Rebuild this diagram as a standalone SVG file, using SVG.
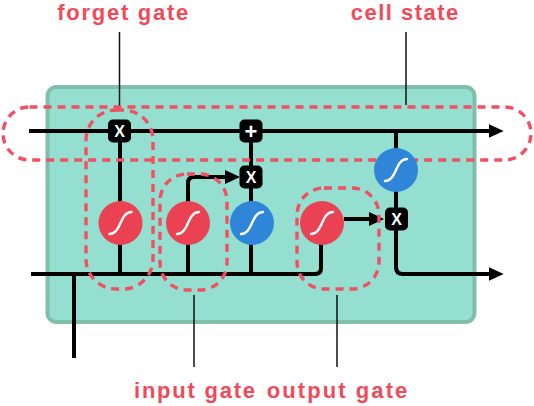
<svg xmlns="http://www.w3.org/2000/svg" width="534" height="406" viewBox="0 0 534 406">
<defs>
<style>
.lbl{font-family:"Liberation Sans",Arial,sans-serif;font-weight:bold;font-size:22px;fill:#f04a5a;text-anchor:middle}
.lead{stroke:#111;stroke-width:1.5;fill:none}
.wire{stroke:#000;stroke-width:4;fill:none;stroke-linejoin:round}
.dash{stroke:#f24f60;stroke-width:3.4;fill:none;stroke-dasharray:8 6}
.sig{fill:#ea4252}
.tanh{fill:#2f86d8}
.curve{stroke:#fff;stroke-width:2.4;fill:none;stroke-linecap:round}
.op{fill:#000}
.opt{font-family:"Liberation Sans",Arial,sans-serif;font-weight:bold;fill:#fff;text-anchor:middle}
</style>
<marker id="ah" markerUnits="userSpaceOnUse" viewBox="0 0 15 14" markerWidth="15" markerHeight="14" refX="5" refY="7" orient="auto">
<path d="M0,0 L15,7 L0,14 Z" fill="#000"/>
</marker>
<path id="scurve" d="M-11,11 C1,11 -1,-11 11,-11"/>
</defs>

<g id="cell-box">
<rect x="47.5" y="87" width="427" height="235" rx="9" fill="#94dfcf" stroke="#7fbfab" stroke-width="4"/>
</g>

<g id="connectors">
<path class="wire" d="M29,131 H493.7" marker-end="url(#ah)"/>
<path class="wire" d="M31,274 H315 Q321,274 321,268 V223"/>
<path class="wire" d="M74,274 V358"/>
<path class="wire" d="M120,131 V274"/>
<path class="wire" d="M188,274 V183 Q188,177 194,177 H230" marker-end="url(#ah)"/>
<path class="wire" d="M251,131 V274"/>
<path class="wire" d="M344,219 H374" marker-end="url(#ah)"/>
<path class="wire" d="M396,131 V267 Q396,274 403,274 H493.7" marker-end="url(#ah)"/>
<path class="lead" d="M119.5,32 V106"/>
<path class="lead" d="M406,32 V105"/>
<path class="lead" d="M194,295 V367"/>
<path class="lead" d="M337,295 V367"/>
</g>

<g id="cell-state-region"><rect class="dash" x="3" y="107" width="528" height="53" rx="26.5"/></g>
<g id="forget-gate-region"><rect class="dash" x="86" y="110" width="67" height="179" rx="30"/></g>
<g id="input-gate-region"><rect class="dash" x="160" y="174" width="67" height="116" rx="27"/></g>
<g id="output-gate-region"><rect class="dash" x="297" y="188" width="82" height="101" rx="27"/></g>

<g id="forget-sigmoid"><circle class="sig" cx="120.5" cy="223" r="22"/><use href="#scurve" class="curve" transform="translate(120.5,223)"/></g>
<g id="input-sigmoid"><circle class="sig" cx="188" cy="223" r="22"/><use href="#scurve" class="curve" transform="translate(188,223)"/></g>
<g id="candidate-tanh"><circle class="tanh" cx="252" cy="223" r="22"/><use href="#scurve" class="curve" transform="translate(252,223)"/></g>
<g id="output-sigmoid"><circle class="sig" cx="322" cy="223" r="22"/><use href="#scurve" class="curve" transform="translate(322,223)"/></g>
<g id="cell-tanh"><circle class="tanh" cx="396" cy="170" r="22"/><use href="#scurve" class="curve" transform="translate(396,170)"/></g>

<g id="forget-mult"><rect class="op" x="108" y="119.5" width="23" height="23" rx="5"/><text class="opt" x="119.5" y="136.8" font-size="16">X</text></g>
<g id="add"><rect class="op" x="239.5" y="119.5" width="23" height="23" rx="5"/><text class="opt" x="251" y="138.5" font-size="22">+</text></g>
<g id="input-mult"><rect class="op" x="239.5" y="165.5" width="23" height="23" rx="5"/><text class="opt" x="251" y="182.8" font-size="16">X</text></g>
<g id="output-mult"><rect class="op" x="385" y="207.5" width="23" height="23" rx="5"/><text class="opt" x="396.5" y="224.8" font-size="16">X</text></g>

<g id="labels">
<text class="lbl" x="122.8" y="20" textLength="131" lengthAdjust="spacing">forget gate</text>
<text class="lbl" x="404.5" y="20" textLength="107.6" lengthAdjust="spacing">cell state</text>
<text class="lbl" x="194.5" y="398" textLength="121" lengthAdjust="spacing">input gate</text>
<text class="lbl" x="337" y="398" textLength="140.7" lengthAdjust="spacing">output gate</text>
</g>
</svg>
